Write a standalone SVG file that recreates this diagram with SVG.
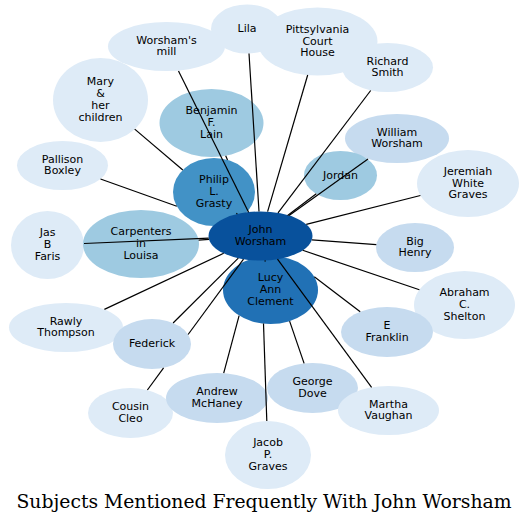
<svg xmlns="http://www.w3.org/2000/svg" width="528" height="524" viewBox="0 0 528 524">
<style>
.n text{font-family:"DejaVu Sans","Liberation Sans",sans-serif;font-size:11px;fill:#000;text-anchor:middle}
.c1{fill:#deebf7}.c2{fill:#c6dbef}.c3{fill:#9ecae1}.c4{fill:#4292c6}.c5{fill:#2171b5}.c6{fill:#08519c}
#edges line{stroke:#000;stroke-width:1.2;stroke-linecap:butt}
.title{font-family:"DejaVu Serif","Liberation Serif",serif;font-size:18px;fill:#000;text-anchor:middle}
</style>
<rect width="528" height="524" fill="#fff"/>
<g id="nodes">
<g id="lila" class="n"><ellipse class="c1" cx="247" cy="29" rx="36" ry="24.5"/><text x="247" y="32">Lila</text></g>
<g id="pittsylvania" class="n"><ellipse class="c1" cx="317.5" cy="41.5" rx="60" ry="34"/><text x="317.5" y="32.7">Pittsylvania</text><text x="317.5" y="44.5">Court</text><text x="317.5" y="56.3">House</text></g>
<g id="richard" class="n"><ellipse class="c1" cx="387.5" cy="67.5" rx="45.5" ry="24.5"/><text x="387.5" y="64.6">Richard</text><text x="387.5" y="76.4">Smith</text></g>
<g id="mill" class="n"><ellipse class="c1" cx="166.5" cy="46.5" rx="58.5" ry="24.5"/><text x="166.5" y="43.6">Worsham's</text><text x="166.5" y="55.4">mill</text></g>
<g id="mary" class="n"><ellipse class="c1" cx="100.5" cy="100" rx="47.5" ry="42"/><text x="100.5" y="85.3">Mary</text><text x="100.5" y="97.1">&amp;</text><text x="100.5" y="108.9">her</text><text x="100.5" y="120.7">children</text></g>
<g id="pallison" class="n"><ellipse class="c1" cx="62.5" cy="165.5" rx="45.5" ry="24.5"/><text x="62.5" y="162.6">Pallison</text><text x="62.5" y="174.4">Boxley</text></g>
<g id="jas" class="n"><ellipse class="c1" cx="47.5" cy="245" rx="36.5" ry="34"/><text x="47.5" y="236.2">Jas</text><text x="47.5" y="248">B</text><text x="47.5" y="259.8">Faris</text></g>
<g id="carpenters" class="n"><ellipse class="c3" cx="141" cy="244" rx="58" ry="34"/><text x="141" y="235.2">Carpenters</text><text x="141" y="247">in</text><text x="141" y="258.8">Louisa</text></g>
<g id="benjamin" class="n"><ellipse class="c3" cx="211.5" cy="123" rx="52" ry="34"/><text x="211.5" y="114.2">Benjamin</text><text x="211.5" y="126">F.</text><text x="211.5" y="137.8">Lain</text></g>
<g id="philip" class="n"><ellipse class="c4" cx="214" cy="192" rx="41" ry="34"/><text x="214" y="183.2">Philip</text><text x="214" y="195">L.</text><text x="214" y="206.8">Grasty</text></g>
<g id="william" class="n"><ellipse class="c2" cx="397" cy="138.5" rx="52" ry="24.5"/><text x="397" y="135.6">William</text><text x="397" y="147.4">Worsham</text></g>
<g id="jordan" class="n"><ellipse class="c3" cx="340.5" cy="175.5" rx="36.5" ry="24.5"/><text x="340.5" y="178.5">Jordan</text></g>
<g id="jeremiah" class="n"><ellipse class="c1" cx="468" cy="183.5" rx="51" ry="33.5"/><text x="468" y="174.7">Jeremiah</text><text x="468" y="186.5">White</text><text x="468" y="198.3">Graves</text></g>
<g id="bighenry" class="n"><ellipse class="c2" cx="415" cy="247.5" rx="39" ry="24.5"/><text x="415" y="244.6">Big</text><text x="415" y="256.4">Henry</text></g>
<g id="abraham" class="n"><ellipse class="c1" cx="464.5" cy="305" rx="50.5" ry="34"/><text x="464.5" y="296.2">Abraham</text><text x="464.5" y="308">C.</text><text x="464.5" y="319.8">Shelton</text></g>
<g id="efranklin" class="n"><ellipse class="c2" cx="387" cy="332" rx="46" ry="25"/><text x="387" y="329.1">E</text><text x="387" y="340.9">Franklin</text></g>
<g id="lucy" class="n"><ellipse class="c5" cx="270.5" cy="290" rx="47.5" ry="34"/><text x="270.5" y="281.2">Lucy</text><text x="270.5" y="293">Ann</text><text x="270.5" y="304.8">Clement</text></g>
<g id="john" class="n"><ellipse class="c6" cx="260.5" cy="236" rx="52" ry="24.5"/><text x="260.5" y="233.1">John</text><text x="260.5" y="244.9">Worsham</text></g>
<g id="rawly" class="n"><ellipse class="c1" cx="66" cy="327.5" rx="57" ry="24.5"/><text x="66" y="324.6">Rawly</text><text x="66" y="336.4">Thompson</text></g>
<g id="federick" class="n"><ellipse class="c2" cx="152" cy="344" rx="39" ry="25"/><text x="152" y="347">Federick</text></g>
<g id="cleo" class="n"><ellipse class="c1" cx="130.5" cy="413" rx="42.5" ry="25"/><text x="130.5" y="410.1">Cousin</text><text x="130.5" y="421.9">Cleo</text></g>
<g id="andrew" class="n"><ellipse class="c2" cx="217" cy="398" rx="51" ry="25"/><text x="217" y="395.1">Andrew</text><text x="217" y="406.9">McHaney</text></g>
<g id="jacob" class="n"><ellipse class="c1" cx="268" cy="455" rx="43" ry="34"/><text x="268" y="446.2">Jacob</text><text x="268" y="458">P.</text><text x="268" y="469.8">Graves</text></g>
<g id="george" class="n"><ellipse class="c2" cx="312.5" cy="388" rx="45.5" ry="25"/><text x="312.5" y="385.1">George</text><text x="312.5" y="396.9">Dove</text></g>
<g id="martha" class="n"><ellipse class="c1" cx="388.5" cy="410.5" rx="50.5" ry="24.5"/><text x="388.5" y="407.6">Martha</text><text x="388.5" y="419.4">Vaughan</text></g>
</g>
<g id="edges">
<line x1="178.5" y1="71" x2="248.6" y2="212.2"/>
<line x1="249" y1="53.5" x2="259" y2="211.5"/>
<line x1="307.7" y1="75" x2="267.6" y2="211.7"/>
<line x1="370.7" y1="90.5" x2="278" y2="212.9"/>
<line x1="368" y1="159" x2="289.1" y2="215.5"/>
<line x1="316.3" y1="193.8" x2="287.6" y2="215.5"/>
<line x1="420.4" y1="195.5" x2="306.3" y2="224.4"/>
<line x1="376.3" y1="244.6" x2="311.9" y2="239.8"/>
<line x1="419.4" y1="289.7" x2="302.7" y2="250.3"/>
<line x1="360.2" y1="311.7" x2="314.3" y2="276.8"/>
<line x1="371.6" y1="387.4" x2="277.5" y2="259.2"/>
<line x1="304.1" y1="363.4" x2="289.6" y2="321.1"/>
<line x1="266.8" y1="421" x2="263.5" y2="323.6"/>
<line x1="223.7" y1="373.2" x2="239.1" y2="315.6"/>
<line x1="147.4" y1="390" x2="163.6" y2="367.9"/>
<line x1="188.1" y1="334.5" x2="243.5" y2="259.2"/>
<line x1="173.1" y1="323" x2="238.3" y2="258.1"/>
<line x1="104.4" y1="309.4" x2="223.7" y2="253.3"/>
<line x1="84" y1="243.5" x2="208.7" y2="238.2"/>
<line x1="198.6" y1="240.1" x2="209" y2="239.4"/>
<line x1="100.5" y1="179" x2="176.8" y2="206.2"/>
<line x1="134.7" y1="129.1" x2="182.8" y2="170"/>
<line x1="225.7" y1="155.7" x2="227.5" y2="159.9"/>
<line x1="236.4" y1="213.2" x2="237.3" y2="214.1"/>
<line x1="265" y1="260.4" x2="265.25" y2="261.6"/>
</g>
<text class="title" x="264" y="508" textLength="495" lengthAdjust="spacingAndGlyphs">Subjects Mentioned Frequently With John Worsham</text>
</svg>
